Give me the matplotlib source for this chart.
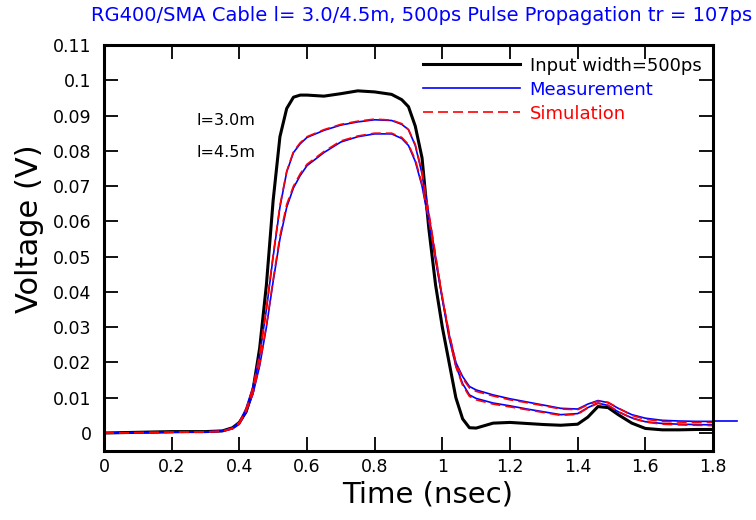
import matplotlib
matplotlib.use("Agg")
import matplotlib.pyplot as plt

# ---------------- data ----------------
time_ns = [0.0, 0.1, 0.2, 0.3, 0.35, 0.38, 0.4, 0.42, 0.44, 0.46, 0.48, 0.5, 0.52,
           0.54, 0.56, 0.58, 0.6, 0.65, 0.7, 0.75, 0.8, 0.85, 0.88, 0.9, 0.92, 0.94,
           0.96, 0.98, 1.0, 1.02, 1.04, 1.06, 1.08, 1.1, 1.15, 1.2, 1.25, 1.3, 1.35,
           1.4, 1.43, 1.46, 1.49, 1.52, 1.56, 1.6, 1.65, 1.7, 1.75, 1.8]

input_v = [0.0, 0.0002, 0.0004, 0.0004, 0.0006, 0.0015, 0.003, 0.006, 0.012, 0.024,
           0.042, 0.066, 0.084, 0.092, 0.0952, 0.0958, 0.0958, 0.0955, 0.0962, 0.0970,
           0.0967, 0.0960, 0.0945, 0.0925, 0.0870, 0.0780, 0.0580, 0.0420, 0.0300,
           0.0200, 0.0100, 0.0040, 0.0015, 0.0014, 0.0028, 0.0030, 0.0027, 0.0024,
           0.0022, 0.0025, 0.0045, 0.0075, 0.0072, 0.0052, 0.0028, 0.0013, 0.0009,
           0.0009, 0.0010, 0.0010]

meas_3m = [0.0, 0.0001, 0.0002, 0.0003, 0.0006, 0.0015, 0.003, 0.007, 0.013, 0.022,
           0.035, 0.050, 0.064, 0.074, 0.0795, 0.0820, 0.0838, 0.0858, 0.0873, 0.0882,
           0.0888, 0.0886, 0.0875, 0.0860, 0.0815, 0.0735, 0.0620, 0.0500, 0.0380,
           0.0270, 0.0190, 0.0140, 0.0108, 0.0098, 0.0085, 0.0077, 0.0068, 0.0060,
           0.0052, 0.0055, 0.0072, 0.0085, 0.0078, 0.0060, 0.0043, 0.0032, 0.0027,
           0.0025, 0.0024, 0.0023]

sim_3m = [0.0, 0.0001, 0.0002, 0.0003, 0.0005, 0.0014, 0.003, 0.0068, 0.0128, 0.0222,
          0.0355, 0.0505, 0.0645, 0.0742, 0.0798, 0.0823, 0.0840, 0.0860, 0.0875,
          0.0884, 0.0890, 0.0887, 0.0877, 0.0860, 0.0818, 0.0740, 0.0625, 0.0505,
          0.0385, 0.0275, 0.0188, 0.0135, 0.0104, 0.0094, 0.0082, 0.0074, 0.0066,
          0.0058, 0.0050, 0.0053, 0.0071, 0.0084, 0.0079, 0.0061, 0.0042, 0.0031,
          0.0025, 0.0023, 0.0022, 0.0021]

meas_45m = [0.0, 0.0001, 0.0002, 0.0003, 0.0005, 0.0012, 0.0025, 0.006, 0.011, 0.019,
            0.030, 0.043, 0.055, 0.064, 0.0695, 0.0730, 0.0758, 0.0795, 0.0825, 0.0840,
            0.0848, 0.0848, 0.0835, 0.0815, 0.0770, 0.0700, 0.0600, 0.0490, 0.0380,
            0.0280, 0.0200, 0.0160, 0.0132, 0.0122, 0.0108, 0.0097, 0.0088, 0.0079,
            0.0070, 0.0068, 0.0082, 0.0092, 0.0086, 0.0070, 0.0052, 0.0042, 0.0036,
            0.0034, 0.0033, 0.0033]

sim_45m = [0.0, 0.0001, 0.0002, 0.0003, 0.0005, 0.0012, 0.0026, 0.0062, 0.0112, 0.0195,
           0.0305, 0.0435, 0.0558, 0.0648, 0.0700, 0.0735, 0.0762, 0.0798, 0.0828,
           0.0842, 0.0850, 0.0850, 0.0838, 0.0818, 0.0775, 0.0706, 0.0606, 0.0496,
           0.0386, 0.0284, 0.0198, 0.0155, 0.0128, 0.0118, 0.0105, 0.0094, 0.0086,
           0.0077, 0.0068, 0.0066, 0.0080, 0.0090, 0.0087, 0.0071, 0.0050, 0.0039,
           0.0033, 0.0031, 0.0030, 0.0030]

# blue measurement trace that runs past the right frame
meas_ext_t = [1.8, 1.871]
meas_ext_v = [0.0033, 0.0033]

xtick_vals = [0, 0.2, 0.4, 0.6, 0.8, 1.0, 1.2, 1.4, 1.6, 1.8]
xtick_labels = ["0", "0.2", "0.4", "0.6", "0.8", "1", "1.2", "1.4", "1.6", "1.8"]
ytick_vals = [0, 0.01, 0.02, 0.03, 0.04, 0.05, 0.06, 0.07, 0.08, 0.09, 0.1, 0.11]
ytick_labels = ["0", "0.01", "0.02", "0.03", "0.04", "0.05", "0.06", "0.07", "0.08",
                "0.09", "0.1", "0.11"]

title = "RG400/SMA Cable l= 3.0/4.5m, 500ps Pulse Propagation tr = 107ps"
legend_labels = ["Input width=500ps", "Measurement", "Simulation"]

# ---------------- plot ----------------
plt.rcParams["font.family"] = ["DejaVu Sans"]
fig = plt.figure(figsize=(7.56, 5.2), dpi=100)
ax = fig.add_axes([104 / 756, 1 - 451 / 520, 609 / 756, 406 / 520])

l_in, = ax.plot(time_ns, input_v, color="black", lw=2.2)
l_m, = ax.plot(time_ns, meas_3m, color="blue", lw=1.2)
ax.plot(time_ns, meas_45m, color="blue", lw=1.2)
ax.plot(meas_ext_t, meas_ext_v, color="blue", lw=1.2, clip_on=False)
l_s, = ax.plot(time_ns, sim_3m, color="red", lw=1.2, ls=(0, (6, 3)))
ax.plot(time_ns, sim_45m, color="red", lw=1.2, ls=(0, (6, 3)))

ax.set_xlim(0, 1.8)
ax.set_ylim(-0.0051, 0.11)
ax.set_xticks(xtick_vals)
ax.set_xticklabels(xtick_labels)
ax.set_yticks(ytick_vals)
ax.set_yticklabels(ytick_labels)
ax.tick_params(direction="in", length=10, width=1.3, top=True, right=True,
               labelsize=12.5)
ax.tick_params(axis="x", pad=5)
ax.tick_params(axis="y", pad=9)
for s in ax.spines.values():
    s.set_linewidth(2.2)

ax.set_xlabel("Time (nsec)", fontsize=21)
ax.set_ylabel("Voltage (V)", fontsize=22)
ax.xaxis.set_label_coords((428 - 104) / 609, -(495 - 451) / 406)
ax.yaxis.set_label_coords(-(104 - 30) / 609, (451 - 229) / 406)
ax.xaxis.label.set_va("center")
ax.yaxis.label.set_va("center")

fig.text(752 / 756, 0.971, title, color="blue", fontsize=14, ha="right", va="center")

ax.text(0.272, 0.0885, "l=3.0m", fontsize=11.5, va="center", ha="left")
ax.text(0.272, 0.0794, "l=4.5m", fontsize=11.5, va="center", ha="left")

leg = ax.legend([l_in, l_m, l_s], legend_labels, loc="upper right", frameon=False,
                fontsize=13, handlelength=5.4, handletextpad=0.5, labelspacing=0.33,
                borderaxespad=0.25, labelcolor=["black", "blue", "red"])

fig.savefig("out.png", dpi=100)
